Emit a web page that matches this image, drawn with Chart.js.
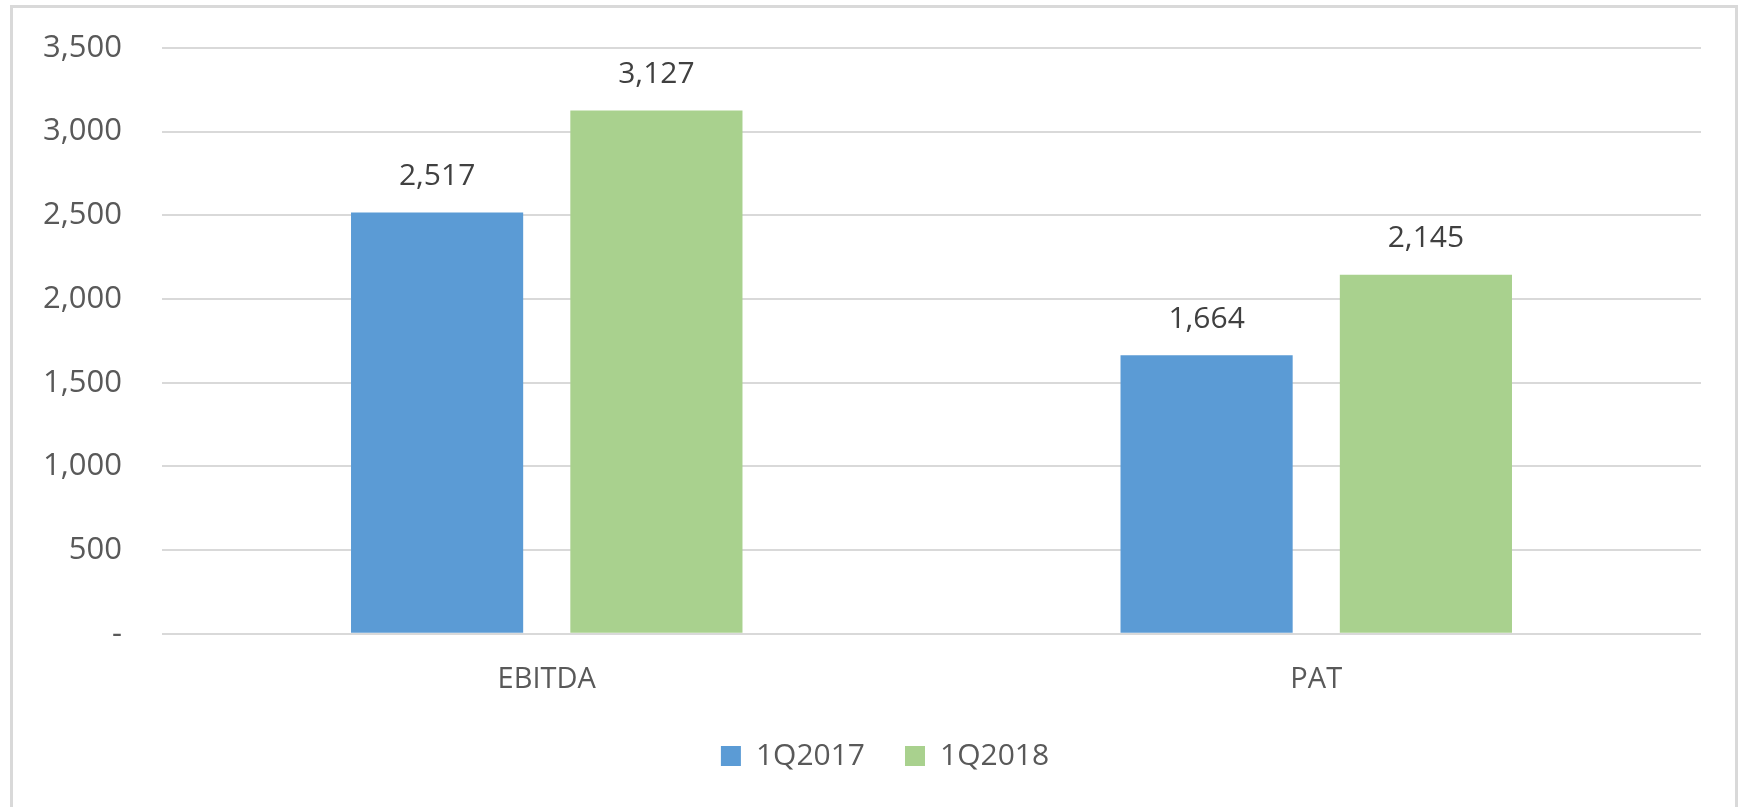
<!DOCTYPE html>
<html>
<head>
<meta charset="utf-8">
<script src="https://cdn.jsdelivr.net/npm/chart.js@4.4.1/dist/chart.umd.min.js"></script>
<style>
  html, body { margin: 0; padding: 0; background: #fff; }
  #wrap { position: relative; width: 1741px; height: 807px; overflow: hidden; }
  #frame { position: absolute; left: 10px; top: 5px; width: 1728px; height: 810px;
           border: 3px solid #d9d9d9; box-sizing: border-box; pointer-events: none; }
  canvas { position: absolute; left: 0; top: 0; }
</style>
</head>
<body>
<div id="wrap">
  <canvas id="c" width="1741" height="807"></canvas>
  <div id="frame"></div>
</div>
<script>
// Chart data
var categories = ['EBITDA', 'PAT'];
var seriesNames = ['1Q2017', '1Q2018'];
var values2017 = [2517, 1664];
var values2018 = [3127, 2145];
var yTicks = [0, 500, 1000, 1500, 2000, 2500, 3000, 3500];

var FONT = '"Open Sans", sans-serif';

function fmt(v) {
  if (v === 0) return '-';
  return v.toLocaleString('en-US');
}

// draw value above each bar
var valueLabels = {
  id: 'valueLabels',
  afterDatasetsDraw: function(chart) {
    var ctx = chart.ctx;
    ctx.save();
    ctx.fillStyle = '#404040';
    ctx.font = '30px ' + FONT;
    ctx.textAlign = 'center';
    ctx.textBaseline = 'middle';
    chart.data.datasets.forEach(function(ds, i) {
      var meta = chart.getDatasetMeta(i);
      meta.data.forEach(function(bar, j) {
        ctx.fillText(fmt(ds.data[j]), bar.x, bar.y - 36);
      });
    });
    ctx.restore();
  }
};

// nudge the legend box (closer to the axis labels, centred on the frame)
var legendNudge = {
  id: 'legendNudge',
  afterLayout: function(chart) {
    var lg = chart.legend;
    if (!lg) return;
    lg.top -= 17.5; lg.bottom -= 17.5;
    lg.left += 69;
  }
};

new Chart(document.getElementById('c'), {
  type: 'bar',
  data: {
    labels: categories,
    datasets: [
      { label: seriesNames[0], data: values2017, backgroundColor: '#5b9bd5',
        categoryPercentage: 0.57, barPercentage: 0.785 },
      { label: seriesNames[1], data: values2018, backgroundColor: '#a9d18e',
        categoryPercentage: 0.57, barPercentage: 0.785 }
    ]
  },
  options: {
    responsive: false,
    animation: false,
    layout: { padding: { left: 0, right: 40, top: 48, bottom: 8.5 } },
    plugins: {
      tooltip: { enabled: false },
      legend: {
        position: 'bottom',
        labels: {
          color: '#595959',
          font: { family: FONT, size: 30 },
          boxWidth: 20, boxHeight: 20,
          padding: 40
        }
      }
    },
    scales: {
      x: {
        grid: { display: false },
        border: { display: false },
        ticks: { color: '#595959', font: { family: FONT, size: 29 }, padding: 21 }
      },
      y: {
        min: 0, max: 3500,
        afterFit: function(axis) { axis.width = 162; },
        afterBuildTicks: function(axis) {
          axis.ticks = yTicks.map(function(v) { return { value: v }; });
        },
        grid: { color: '#d9d9d9', lineWidth: 2, drawTicks: true, tickLength: 30, tickColor: 'rgba(0,0,0,0)' },
        border: { display: false },
        ticks: {
          color: '#595959', padding: 10,
          font: { family: FONT, size: 31 },
          callback: function(v) { return fmt(v); }
        }
      }
    }
  },
  plugins: [valueLabels, legendNudge]
});
</script>
</body>
</html>
